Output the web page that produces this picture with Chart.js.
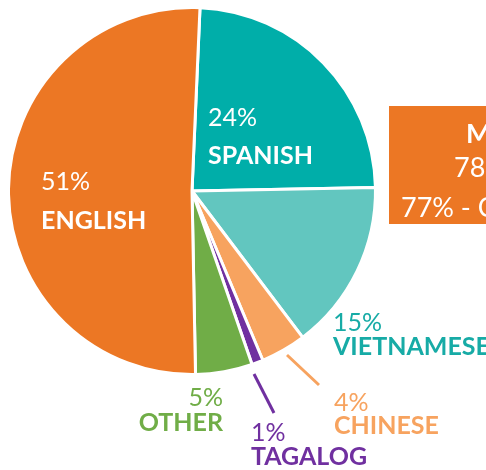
<!DOCTYPE html>
<html>
<head>
<meta charset="utf-8">
<script src="https://cdn.jsdelivr.net/npm/chart.js@4"></script>
<style>
  html, body { margin: 0; padding: 0; background: #ffffff; overflow: hidden; }
  #wrap { position: relative; width: 486px; height: 470px; }
  canvas { display: block; }
</style>
</head>
<body>
<div id="wrap"><canvas id="c" width="486" height="470"></canvas></div>
<script>
// ---- data ----
const categories = ['SPANISH', 'VIETNAMESE', 'CHINESE', 'TAGALOG', 'OTHER', 'ENGLISH'];
const shares = [24, 15, 4, 1, 5, 51];
const percentLabels = ['24%', '15%', '4%', '1%', '5%', '51%'];
const boxLines = ['M', '78', '77% - C'];

// ---- styles / layout ----
const sliceColors = ['#00AEA9', '#62C6BF', '#F7A35F', '#7030A0', '#70AD47', '#EC7724'];
const labelColors = ['#ffffff', '#17ABA6', '#F7A35F', '#7030A0', '#70AD47', '#ffffff'];
const labelLayout = [
  { x: 208, pctY: 126, nameY: 164, align: 'left' },
  { x: 333, pctY: 331, nameY: 355, align: 'left' },
  { x: 334, pctY: 411, nameY: 434, align: 'left' },
  { x: 251, pctY: 441, nameY: 465, align: 'left' },
  { x: 223, pctY: 406, nameY: 431, align: 'right' },
  { x: 41,  pctY: 190, nameY: 229, align: 'left' }
];
const leaders = [
  null, null,
  { x1: 287, y1: 355, x2: 319, y2: 385 },
  { x1: 254, y1: 374, x2: 274, y2: 413 },
  null, null
];
const FONT = 'Lato, "Open Sans", sans-serif';

const labelPlugin = {
  id: 'labelPlugin',
  afterDraw(chart) {
    const ctx = chart.ctx;
    ctx.save();
    leaders.forEach((l, i) => {
      if (!l) return;
      ctx.strokeStyle = sliceColors[i];
      ctx.lineWidth = 3;
      ctx.beginPath();
      ctx.moveTo(l.x1, l.y1);
      ctx.lineTo(l.x2, l.y2);
      ctx.stroke();
    });
    ctx.textBaseline = 'alphabetic';
    categories.forEach((name, i) => {
      const L = labelLayout[i];
      ctx.fillStyle = labelColors[i];
      ctx.textAlign = L.align;
      ctx.font = '400 25px ' + FONT;
      ctx.fillText(percentLabels[i], L.x, L.pctY);
      ctx.font = '700 25px ' + FONT;
      ctx.fillText(name, L.x, L.nameY);
    });
    ctx.fillStyle = '#EC7724';
    ctx.fillRect(389, 106, 120, 118);
    ctx.fillStyle = '#ffffff';
    ctx.textAlign = 'left';
    ctx.font = '700 27px ' + FONT;
    ctx.fillText(boxLines[0], 466, 143);
    ctx.font = '400 27px ' + FONT;
    ctx.fillText(boxLines[1], 454, 177);
    ctx.fillText(boxLines[2], 401, 217);
    ctx.restore();
  }
};

new Chart(document.getElementById('c'), {
  type: 'pie',
  data: {
    labels: categories,
    datasets: [{
      data: shares,
      backgroundColor: sliceColors,
      borderColor: '#ffffff',
      borderWidth: 3,
      hoverOffset: 0
    }]
  },
  options: {
    responsive: false,
    animation: false,
    rotation: 2.5,
    layout: { padding: { left: 7, top: 6, right: 109, bottom: 94 } },
    plugins: { legend: { display: false }, tooltip: { enabled: false } }
  },
  plugins: [labelPlugin]
});
</script>
</body>
</html>
